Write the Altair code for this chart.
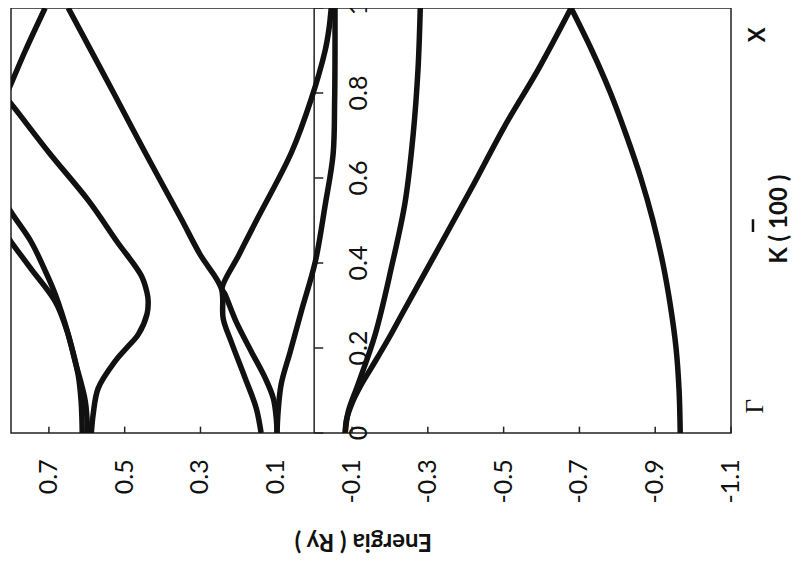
import altair as alt
import pandas as pd

# ---- band data (K along Γ-X, energy in Ry) ----
B1_K = [0, 0.1, 0.2, 0.3, 0.4, 0.5, 0.6, 0.7, 0.8, 0.9, 1.0]
B1_E = [-0.966, -0.963, -0.955, -0.940, -0.920, -0.894, -0.862, -0.824, -0.782, -0.733, -0.678]

B2_K = [0, 0.03, 0.07, 0.11, 0.152, 0.22, 0.293, 0.433, 0.574, 0.724, 0.855, 1.0]
B2_E = [-0.082, -0.085, -0.100, -0.122, -0.150, -0.195, -0.240, -0.327, -0.414, -0.504, -0.591, -0.678]

B3_K = [0, 0.05, 0.115, 0.232, 0.386, 0.543, 0.70, 0.855, 1.0]
B3_E = [-0.082, -0.090, -0.116, -0.161, -0.203, -0.240, -0.261, -0.274, -0.280]

G_K = [0, 0.052, 0.115, 0.192, 0.286, 0.403, 0.536, 0.656, 0.78, 0.89, 1.0]
G_E = [0.098, 0.095, 0.087, 0.063, 0.034, -0.003, -0.029, -0.050, -0.054, -0.055, -0.055]

C_K = [1.0, 0.95, 0.9, 0.785, 0.66, 0.504, 0.42, 0.34, 0.326, 0.262, 0.192, 0.129, 0.082, 0.035, 0]
C_E = [-0.045, -0.039, -0.029, 0.008, 0.060, 0.150, 0.198, 0.243, 0.235, 0.206, 0.166, 0.129, 0.108, 0.100, 0.098]

B_K = [1.0, 0.8, 0.66, 0.504, 0.42, 0.34, 0.269, 0.215, 0.129, 0.059, 0]
B_E = [0.649, 0.529, 0.446, 0.351, 0.301, 0.245, 0.240, 0.219, 0.182, 0.153, 0.140]

A_K = [1.0, 0.9, 0.817, 0.79, 0.777, 0.66, 0.545, 0.45, 0.37, 0.33, 0.309, 0.28, 0.232, 0.2, 0.169, 0.105, 0.045, 0]
A_E = [0.71, 0.762, 0.802, 0.815, 0.802, 0.70, 0.594, 0.52, 0.456, 0.441, 0.438, 0.441, 0.464, 0.495, 0.525, 0.570, 0.583, 0.588]

D_K = [0.6, 0.527, 0.45, 0.386, 0.326, 0.232, 0.138, 0.075, 0]
D_E = [0.85, 0.805, 0.747, 0.712, 0.683, 0.649, 0.623, 0.615, 0.612]

E_K = [0.5, 0.45, 0.386, 0.309, 0.24, 0.169, 0.075, 0]
E_E = [0.84, 0.80, 0.747, 0.683, 0.652, 0.631, 0.604, 0.598]

# ---- axis ticks / labels ----
E_TICKS = [0.7, 0.5, 0.3, 0.1, -0.1, -0.3, -0.5, -0.7, -0.9, -1.1]
E_LABELS = ["0.7", "0.5", "0.3", "0.1", "-0.1", "-0.3", "-0.5", "-0.7", "-0.9", "-1.1"]
K_TICKS = [0, 0.2, 0.4, 0.6, 0.8, 1.0]
K_LABELS = ["0", "0.2", "0.4", "0.6", "0.8", "1"]

bands = {"b1": (B1_K, B1_E), "b2": (B2_K, B2_E), "b3": (B3_K, B3_E),
         "g": (G_K, G_E), "c": (C_K, C_E), "b": (B_K, B_E),
         "a": (A_K, A_E), "d": (D_K, D_E), "e": (E_K, E_E)}
rows = []
for name, (ks, es) in bands.items():
    for i, (k, e) in enumerate(zip(ks, es)):
        rows.append({"band": name, "k": k, "e": e, "idx": i})
df = pd.DataFrame(rows)

xscale = alt.Scale(domain=[-1.1, 0.8], reverse=True, nice=False, zero=False)
yscale = alt.Scale(domain=[0, 1], nice=False, zero=False)

FONT = "Lato"
INK = "#111"

lines = alt.Chart(df).mark_line(
    color=INK, strokeWidth=5.5, interpolate="catmull-rom", clip=True
).encode(
    x=alt.X("e:Q", scale=xscale, axis=None),
    y=alt.Y("k:Q", scale=yscale, axis=None),
    detail="band:N",
    order="idx:Q",
)

zero_line = alt.Chart(pd.DataFrame({"v": [0.0]})).mark_rule(
    color="#222", strokeWidth=1.5
).encode(x=alt.X("v:Q", scale=xscale, axis=None))

ek = pd.DataFrame({"e": E_TICKS, "lbl": E_LABELS,
                   "k0": [0.0] * len(E_TICKS), "k1": [0.015] * len(E_TICKS),
                   "kl": [-0.062] * len(E_TICKS)})
e_ticks = alt.Chart(ek).mark_rule(color="#222", strokeWidth=1.5).encode(
    x=alt.X("e:Q", scale=xscale, axis=None),
    y=alt.Y("k0:Q", scale=yscale, axis=None), y2="k1:Q",
)
e_labels = alt.Chart(ek).mark_text(
    angle=270, align="right", baseline="middle", font=FONT, fontSize=25,
    color=INK, clip=False
).encode(
    x=alt.X("e:Q", scale=xscale, axis=None),
    y=alt.Y("kl:Q", scale=yscale, axis=None), text="lbl:N"
)

kt = pd.DataFrame({"k": K_TICKS, "lbl": K_LABELS,
                   "e0": [0.0] * len(K_TICKS), "e1": [-0.024] * len(K_TICKS),
                   "el": [-0.119] * len(K_TICKS)})
k_ticks = alt.Chart(kt).mark_rule(color="#222", strokeWidth=1.5).encode(
    y=alt.Y("k:Q", scale=yscale, axis=None),
    x=alt.X("e0:Q", scale=xscale, axis=None), x2="e1:Q",
)
k_labels = alt.Chart(kt).mark_text(
    angle=270, align="center", baseline="middle", font=FONT, fontSize=25,
    color=INK, clip=False
).encode(
    y=alt.Y("k:Q", scale=yscale, axis=None),
    x=alt.X("el:Q", scale=xscale, axis=None), text="lbl:N"
)

def label(txt, e, k, angle, size, weight="bold", font=FONT):
    return alt.Chart(pd.DataFrame({"t": [txt], "e": [e], "k": [k]})).mark_text(
        angle=angle, align="center", baseline="middle", font=font,
        fontSize=size, fontWeight=weight, color=INK, clip=False
    ).encode(
        x=alt.X("e:Q", scale=xscale, axis=None),
        y=alt.Y("k:Q", scale=yscale, axis=None), text="t:N")

e_title = label("Energia ( Ry )", -0.13, -0.253, 180, 24)
k_title = label("K ( 100 )", -1.23, 0.503, 270, 24)
gamma = label("Γ", -1.164, 0.063, 270, 25, "normal", "Liberation Serif")
xlab = label("X", -1.171, 0.937, 270, 22)

bar = alt.Chart(pd.DataFrame({"e": [-1.158], "a": [0.473], "b": [0.503]})).mark_rule(
    color=INK, strokeWidth=2.5, clip=False
).encode(
    x=alt.X("e:Q", scale=xscale, axis=None),
    y=alt.Y("a:Q", scale=yscale, axis=None), y2="b:Q",
)

chart = alt.layer(
    zero_line, e_ticks, k_ticks, lines, e_labels, k_labels, e_title, k_title, gamma, xlab, bar
).properties(
    width=720, height=425,
    padding={"left": 3, "top": 0, "right": 60, "bottom": 125},
    autosize=alt.AutoSizeParams(type="none"),
    background="white",
).configure_view(stroke="#222", strokeWidth=1.5)

chart.save("out.html", embed_options={"renderer": "svg", "actions": False})
